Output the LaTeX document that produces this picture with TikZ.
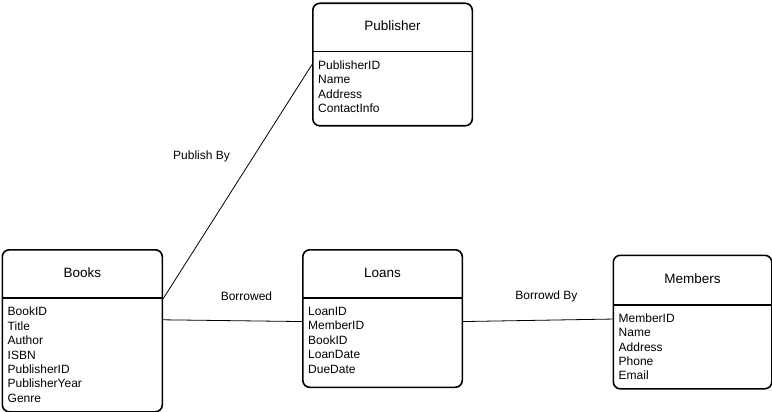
\documentclass[tikz,border=0pt]{standalone}
\usepackage{fontspec}
\setmainfont{Liberation Sans}
\usetikzlibrary{calc}

\begin{document}
\begin{tikzpicture}[x=1pt,y=-1pt,
  entity/.style={draw,line width=1.6pt,rounded corners=7pt,anchor=north west,inner sep=0pt},
  divider/.style={line width=1.6pt},
  etitle/.style={font=\fontsize{13.5}{16}\selectfont},
  attrs/.style={font=\fontsize{12}{14.4}\selectfont,align=left,anchor=north west,inner sep=0pt},
  rel/.style={line width=0.8pt},
  rlabel/.style={font=\fontsize{12}{14}\selectfont}]
\useasboundingbox (0,0) rectangle (772,412);

% Publisher
\node[entity,minimum width=159.5pt,minimum height=122.5pt] (publisher) at (312,2.5) {};
\draw[divider] ([yshift=-49pt]publisher.north west) -- ([yshift=-49pt]publisher.north east);
\node[etitle] (publisher-t) at ($(publisher.north)+(0,23.5)$) {Publisher};
\node[attrs] (publisher-a) at ($(publisher.north west)+(6,58)$) {PublisherID\\Name\\Address\\ContactInfo};

% Books
\node[entity,minimum width=160pt,minimum height=162pt] (books) at (1.5,249) {};
\draw[divider] ([yshift=-49pt]books.north west) -- ([yshift=-49pt]books.north east);
\node[etitle] (books-t) at ($(books.north)+(0,24)$) {Books};
\node[attrs] (books-a) at ($(books.north west)+(6,58)$) {BookID\\Title\\Author\\ISBN\\PublisherID\\PublisherYear\\Genre};

% Loans
\node[entity,minimum width=159.5pt,minimum height=137.5pt] (loans) at (302,249) {};
\draw[divider] ([yshift=-49pt]loans.north west) -- ([yshift=-49pt]loans.north east);
\node[etitle] (loans-t) at ($(loans.north)+(0,24)$) {Loans};
\node[attrs] (loans-a) at ($(loans.north west)+(6,58)$) {LoanID\\MemberID\\BookID\\LoanDate\\DueDate};

% Members
\node[entity,minimum width=158.5pt,minimum height=133.5pt] (members) at (612.5,254.5) {};
\draw[divider] ([yshift=-50.5pt]members.north west) -- ([yshift=-50.5pt]members.north east);
\node[etitle] (members-t) at ($(members.north)+(0,24)$) {Members};
\node[attrs] (members-a) at ($(members.north west)+(6,59)$) {MemberID\\Name\\Address\\Phone\\Email};

% relations
\draw[rel] ([yshift=32pt]books.east) -- (publisher.west);
\draw[rel] ([yshift=11pt]books.east) -- ([yshift=-3pt]loans.west);
\draw[rel] ([yshift=-3pt]loans.east) -- ([yshift=3pt]members.west);

\node[rlabel] (publishby) at (201.5,156) {Publish By};
\node[rlabel] (borrowed) at (246.5,296) {Borrowed};
\node[rlabel] (borrowdby) at (546.5,296) {Borrowd By};
\end{tikzpicture}
\end{document}
